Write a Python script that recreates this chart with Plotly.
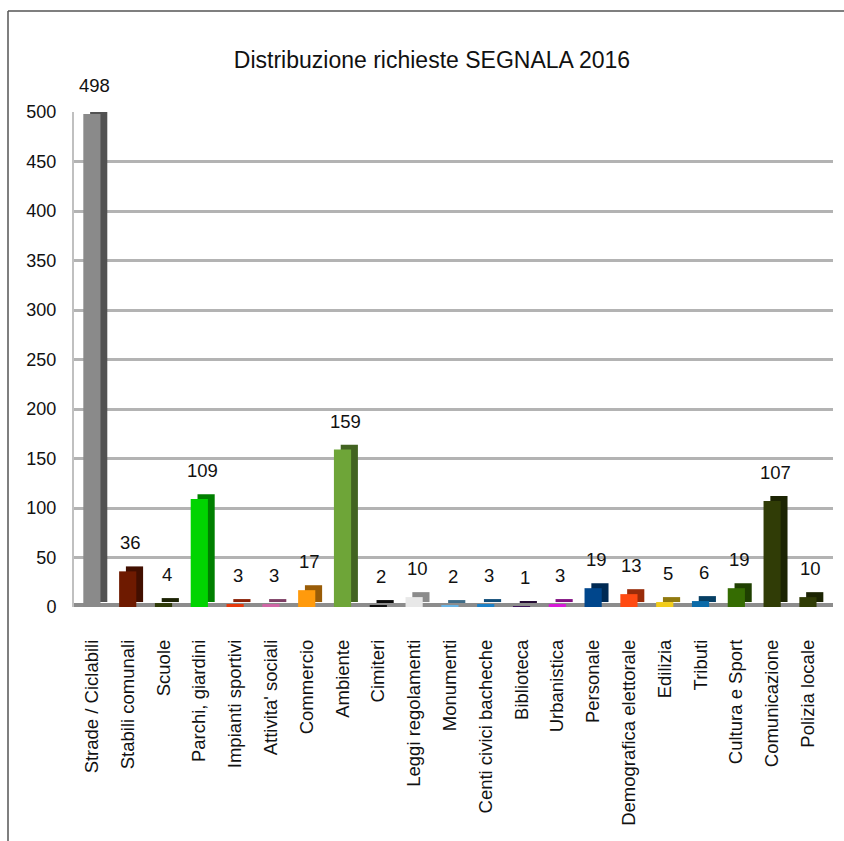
import plotly.graph_objects as go

categories = ["Strade / Ciclabili", "Stabili comunali", "Scuole", "Parchi, giardini",
              "Impianti sportivi", "Attivita' sociali", "Commercio", "Ambiente", "Cimiteri",
              "Leggi regolamenti", "Monumenti", "Centi civici bacheche", "Biblioteca",
              "Urbanistica", "Personale", "Demografica elettorale", "Edilizia", "Tributi",
              "Cultura e Sport", "Comunicazione", "Polizia locale"]
values = [498, 36, 4, 109, 3, 3, 17, 159, 2, 10, 2, 3, 1, 3, 19, 13, 5, 6, 19, 107, 10]
colors = ["#8a8a8a", "#6e1a00", "#2f3b08", "#00d400", "#e8380a", "#d066a6", "#ff9a0c",
          "#6ea538", "#111111", "#e8e8e8", "#6ab4e4", "#1a80c8", "#3e1558", "#d81ad8",
          "#00468c", "#ff4a12", "#f2cc1a", "#0a6aa8", "#356c02", "#303c06", "#303c06"]
y_ticks = [0, 50, 100, 150, 200, 250, 300, 350, 400, 450, 500]
title = "Distribuzione richieste SEGNALA 2016"


def darken(hexc, f=0.6):
    h = hexc.lstrip("#")
    r, g, b = (int(h[i:i + 2], 16) for i in (0, 2, 4))
    return "#%02x%02x%02x" % (int(r * f), int(g * f), int(b * f))


FONT = "Liberation Sans, Arial, sans-serif"
W, H = 844, 841
L, R, T, B = 74, 11, 112, 234

fig = go.Figure()
# side/back face (pseudo 3D)
fig.add_trace(go.Bar(x=categories, y=values, base=[5] * len(values),
                     marker=dict(color=[darken(c) for c in colors], line=dict(width=0)),
                     width=0.48, offset=-0.24 + 0.19, hoverinfo="skip", showlegend=False))
# front face
fig.add_trace(go.Bar(x=categories, y=values,
                     marker=dict(color=colors, line=dict(width=0)),
                     width=0.48, offset=-0.24, showlegend=False))

for c, v in zip(categories, values):
    fig.add_annotation(x=c, y=v, text=str(v), showarrow=False, yanchor="bottom",
                       yshift=16, xshift=3, font=dict(family=FONT, size=18.5, color="#111111"))

pw = W - L - R
ph = H - T - B
def px(x):
    return (x - L) / pw
def py(y):
    return (H - B - y) / ph

shapes = [
    # floor
    dict(type="line", xref="paper", yref="y", x0=0, x1=1, y0=0, y1=0,
         line=dict(color="#8c8c8c", width=8), layer="below"),
    # outer frame (top and left edges)
    dict(type="line", xref="paper", yref="paper", x0=px(8), x1=px(W + 5), y0=py(11), y1=py(11),
         line=dict(color="#555555", width=1.5)),
    dict(type="line", xref="paper", yref="paper", x0=px(8), x1=px(8), y0=py(11), y1=py(H + 5),
         line=dict(color="#555555", width=1.5)),
]

fig.update_layout(
    width=W, height=H,
    margin=dict(l=L, r=R, t=T, b=B),
    paper_bgcolor="white", plot_bgcolor="white",
    barmode="overlay",
    font=dict(family=FONT, size=18, color="#111111"),
    title=dict(text=title, x=432 / W, xref="container", xanchor="center",
               y=1 - 60 / H, yanchor="middle", font=dict(family=FONT, size=23, color="#111111")),
    shapes=shapes,
    xaxis=dict(type="category", range=[-0.5, 20.7], tickangle=-90, showgrid=False,
               ticks="", ticklabelstandoff=28, tickfont=dict(size=18.5),
               showline=False, zeroline=False, fixedrange=True),
    yaxis=dict(range=[0, 500], tickvals=y_ticks, showgrid=True, gridcolor="#b3b3b3",
               gridwidth=2.5, zeroline=False, showline=True, linecolor="#c0c0c0", linewidth=2,
               ticks="", ticklabelstandoff=12, tickfont=dict(size=18), fixedrange=True),
)

fig.write_html("out.html")
